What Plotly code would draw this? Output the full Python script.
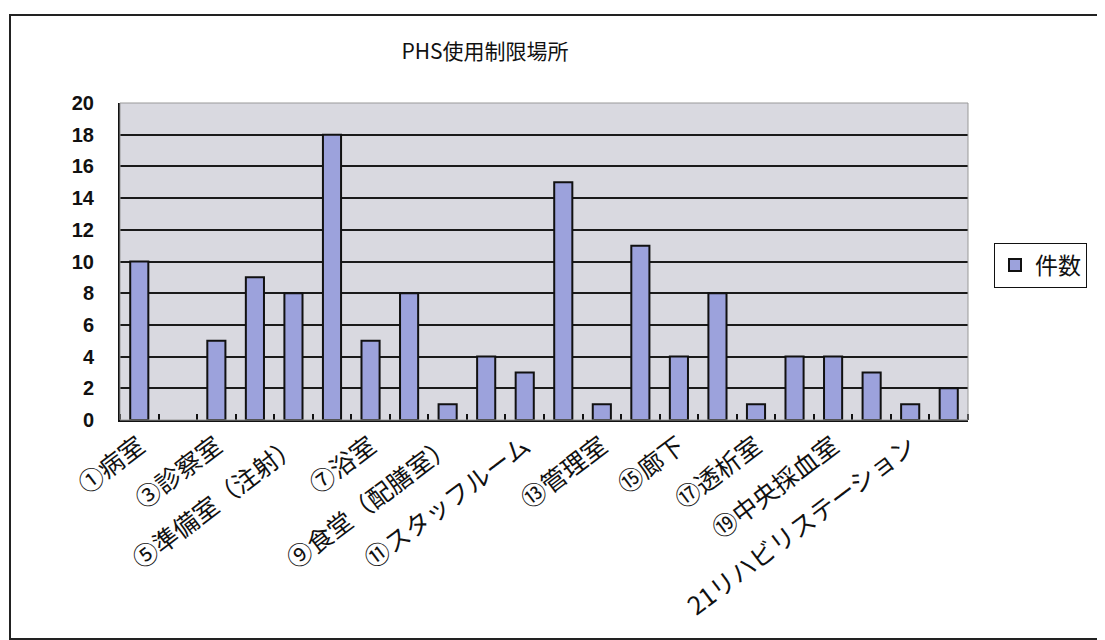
import plotly.graph_objects as go

categories = ["①病室", "②", "③診察室", "④", "⑤準備室（注射）", "⑥", "⑦浴室", "⑧",
              "⑨食堂（配膳室）", "⑩", "⑪スタッフルーム", "⑫", "⑬管理室", "⑭", "⑮廊下", "⑯",
              "⑰透析室", "⑱", "⑲中央採血室", "⑳", "21リハビリステーション", "22"]
counts = [10, 0, 5, 9, 8, 18, 5, 8, 1, 4, 3, 15, 1, 11, 4, 8, 1, 4, 4, 3, 1, 2]
series_name = "件数"
title_text = "PHS使用制限場所"
y_ticks = [0, 2, 4, 6, 8, 10, 12, 14, 16, 18, 20]

positions = list(range(1, len(categories) + 1))
shown_pos = [p for p in positions if p % 2 == 1]
shown_text = [categories[p - 1] for p in shown_pos]
outline_w = [2 if v > 0 else 0 for v in counts]

W, H = 1105, 640
OFF = 8  # page body margin
L, R, T, B = 120 - OFF, 968 - OFF, 103 - OFF, 420 - OFF

fig = go.Figure()
fig.add_trace(go.Bar(
    x=positions, y=counts, name=series_name, width=0.47,
    marker=dict(color="#9ca2dc", line=dict(color="#111111", width=outline_w)),
    showlegend=True,
))

def px2x(px):
    return (px - OFF - L) / (R - L)

def py2y(py):
    return (B - (py - OFF)) / (B - T)

fig.update_layout(
    width=W, height=H,
    margin=dict(l=L, r=W - R, t=T, b=H - B),
    paper_bgcolor="white",
    plot_bgcolor="#d9d9e0",
    font=dict(family="Noto Sans CJK JP", color="#111111"),
    title=dict(text=title_text, x=(485 - OFF) / W, xref="container", xanchor="center",
               y=1 - (52 - OFF) / H, yref="container", yanchor="middle",
               font=dict(size=21, family="Noto Sans CJK JP", color="#111111")),
    legend=dict(x=px2x(994), y=py2y(265), xanchor="left", yanchor="middle",
                bgcolor="white", bordercolor="#111111", borderwidth=1,
                font=dict(size=23, family="Noto Sans CJK JP"),
                itemwidth=30, tracegroupgap=0),
    bargap=0.5,
    xaxis=dict(range=[0.5, len(categories) + 0.5], tickmode="array",
               tickvals=shown_pos, ticktext=shown_text, tickangle=-37,
               ticks="", showgrid=False, zeroline=False,
               showline=True, linecolor="#111111", linewidth=2,
               tickfont=dict(size=25, family="Noto Sans CJK JP", color="#111111"),
               minor=dict(tick0=0.5, dtick=1, ticks="inside", ticklen=6,
                          tickcolor="#111111", tickwidth=2, showgrid=False)),
    yaxis=dict(range=[0, 20], tickmode="array", tickvals=y_ticks,
               showgrid=True, gridcolor="#1a1a1a", gridwidth=2,
               zeroline=False, showline=True, linecolor="#111111", linewidth=2,
               ticks="", ticklabelstandoff=20,
               tickfont=dict(size=20, family="Liberation Sans", weight="bold",
                             color="#111111")),
    shapes=[
        dict(type="rect", xref="paper", yref="paper",
             x0=0, x1=1, y0=0, y1=1, line=dict(color="#999999", width=1),
             fillcolor="rgba(0,0,0,0)", layer="above"),
        dict(type="rect", xref="paper", yref="paper",
             x0=px2x(10), x1=px2x(1112), y0=py2y(639), y1=py2y(15),
             line=dict(color="#222222", width=2), fillcolor="rgba(0,0,0,0)"),
    ],
)

fig.write_html("out.html")
